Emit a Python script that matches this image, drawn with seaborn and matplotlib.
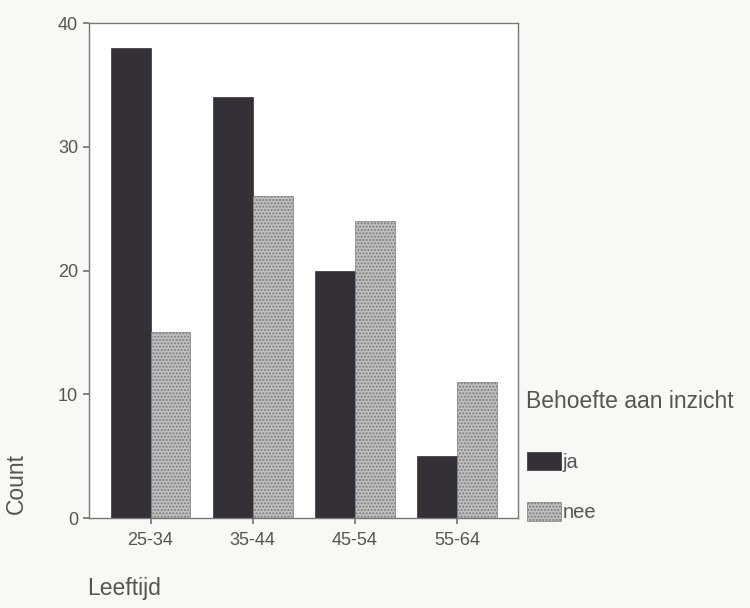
import pandas as pd
import seaborn as sns
import matplotlib.pyplot as plt

age_groups = ['25-34', '35-44', '45-54', '55-64']
ja_counts = [38, 34, 20, 5]
nee_counts = [15, 26, 24, 11]

df = pd.DataFrame({
    'Leeftijd': age_groups * 2,
    'Behoefte aan inzicht': ['ja'] * 4 + ['nee'] * 4,
    'Count': ja_counts + nee_counts,
})

sns.set_theme(style='ticks')
plt.rcParams['font.family'] = ['Liberation Sans', 'DejaVu Sans']

fig = plt.figure(figsize=(7.5, 6.08), dpi=100, facecolor='#f8f8f6')
ax = fig.add_axes([0.119, 0.148, 0.572, 0.814])
ax.set_facecolor('white')

sns.barplot(data=df, x='Leeftijd', y='Count', hue='Behoefte aan inzicht',
            palette={'ja': '#333036', 'nee': '#bfbfbf'}, width=0.78,
            saturation=1, legend=False, ax=ax)

# dark solid bars vs. light stippled bars
for bar in ax.containers[0]:
    bar.set_edgecolor('#333036')
    bar.set_linewidth(0.5)
for bar in ax.containers[1]:
    bar.set_edgecolor('#7d7d7d')
    bar.set_hatch('.....')
    bar.set_linewidth(0.5)

ax.set_xlim(-0.6, 3.6)
ax.set_ylim(0, 40)
ax.set_yticks([0, 10, 20, 30, 40])
for s in ax.spines.values():
    s.set_visible(True)
    s.set_color('#777777')
    s.set_linewidth(1.0)
ax.tick_params(axis='both', colors='#777777', labelcolor='#555555', labelsize=13, length=4)
ax.tick_params(axis='y', pad=4)
ax.tick_params(axis='x', pad=6)

ax.set_xlabel('Leeftijd', fontsize=16.5, color='#555555', ha='left')
ax.xaxis.set_label_coords(-0.005, -0.12)
ax.set_ylabel('Count', fontsize=16.5, color='#555555')
ax.yaxis.set_label_coords(-0.143, 0.069)

leg = ax.legend(ax.containers, ['ja', 'nee'], title='Behoefte aan inzicht',
                loc='upper left', bbox_to_anchor=(0.702, 0.359),
                bbox_transform=fig.transFigure, frameon=False, fontsize=14.5,
                title_fontsize=16.5, labelspacing=1.5, handlelength=1.7,
                handleheight=1.05, handletextpad=0.1, borderaxespad=0, borderpad=0)
leg._legend_box.align = 'left'
leg._legend_box.sep = 28
for t in leg.get_texts():
    t.set_color('#555555')
leg.get_title().set_color('#555555')

fig.savefig('out.png', dpi=100, facecolor=fig.get_facecolor())
